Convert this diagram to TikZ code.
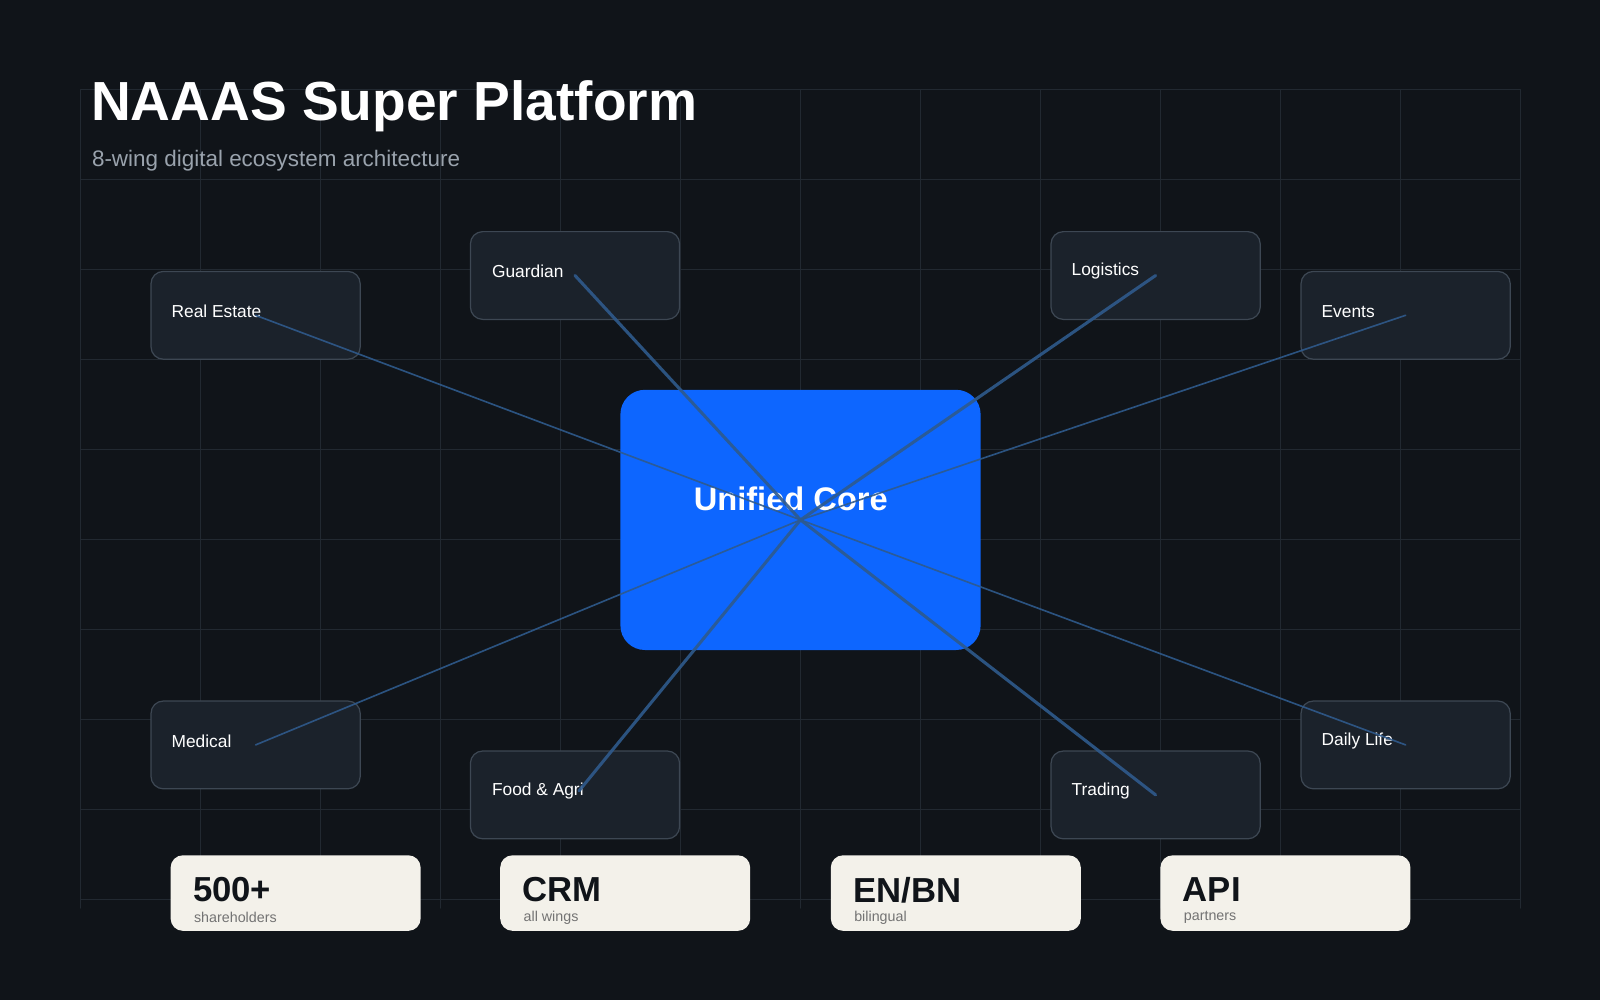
\documentclass[tikz,border=0pt]{standalone}
\usepackage{fontspec}
\setmainfont{Liberation Sans}
\usetikzlibrary{calc}
\definecolor{bgdark}{HTML}{101419}
\definecolor{gridc}{HTML}{222931}
\definecolor{wingfill}{HTML}{1B222B}
\definecolor{wingdraw}{HTML}{3D4753}
\definecolor{coreblue}{HTML}{0D66FF}
\definecolor{linkc}{HTML}{2F5A8C}
\definecolor{cardc}{HTML}{F3F1EA}
\definecolor{subc}{HTML}{9AA3AD}
\tikzset{
  wing/.style={draw=wingdraw,line width=1.2pt,fill=wingfill,rounded corners=12pt,minimum width=205pt,minimum height=86pt},
  winglabel/.style={text=white,font=\fontsize{17}{20}\selectfont,anchor=west,inner sep=0pt},
  card/.style={fill=cardc,rounded corners=12pt,minimum width=245pt,minimum height=74pt},
  link/.style={draw=linkc,line width=1.6pt,draw opacity=0.9},
  linkthick/.style={draw=linkc,line width=3pt,draw opacity=0.9}
}
\begin{document}
\begin{tikzpicture}[line cap=round,line join=round,x=1pt,y=-1pt]
\fill[bgdark] (0,0) rectangle (1568,980);
\useasboundingbox (0,0) rectangle (1568,980);
% grid
\foreach \gx in {0,...,12} \draw[gridc,line width=1pt] (79+117.6*\gx,88) -- (79+117.6*\gx,890);
\foreach \gy in {0,...,9} \draw[gridc,line width=1pt] (79,88+88.2*\gy) -- (1490,88+88.2*\gy);
% title
\node[anchor=west,text=white,font=\bfseries\fontsize{54}{60}\selectfont,inner sep=0pt] (title) at (89,104) {NAAAS Super Platform};
\node[anchor=west,text=subc,font=\fontsize{22}{26}\selectfont,inner sep=0pt] (subtitle) at (90,157) {8-wing digital ecosystem architecture};
% core
\node[fill=coreblue,rounded corners=24pt,minimum width=353pt,minimum height=255pt] (core) at (784.5,509.5) {};
\node[text=white,font=\bfseries\fontsize{32}{36}\selectfont] (corelabel) at (775,489) {Unified Core};
% wings
\node[wing] (realestate) at (250.5,309) {};
\node[wing] (guardian) at (563.5,270) {};
\node[wing] (logistics) at (1132.5,270) {};
\node[wing] (events) at (1377.5,309) {};
\node[wing] (medical) at (250.5,730) {};
\node[wing] (foodagri) at (563.5,779) {};
\node[wing] (trading) at (1132.5,779) {};
\node[wing] (dailylife) at (1377.5,730) {};
\node[winglabel] at (168,305) {Real Estate};
\node[winglabel] at (482,266) {Guardian};
\node[winglabel] at (1050,266) {Logistics};
\node[winglabel] at (1295,305) {Events};
\node[winglabel] at (168,726) {Medical};
\node[winglabel] at (482,775) {Food \& Agri};
\node[winglabel] at (1050,775) {Trading};
\node[winglabel] at (1295,726) {Daily Life};
% links
\draw[link] (core.center) -- (realestate.center);
\draw[linkthick] (core.center) -- (guardian.center);
\draw[linkthick] (core.center) -- (logistics.center);
\draw[link] (core.center) -- (events.center);
\draw[link] (core.center) -- (medical.center);
\draw[linkthick] (core.center) -- ($(foodagri.center)+(4,-4)$);
\draw[linkthick] (core.center) -- (trading.center);
\draw[link] (core.center) -- (dailylife.center);
% stats
\foreach \cx/\big/\small [count=\i] in {167/500+/shareholders,490/CRM/all wings,814/{EN/BN}/bilingual,1137/API/partners}{
  \node[card,anchor=north west] (card\i) at (\cx,838) {};
  \node[anchor=west,text=bgdark,font=\bfseries\fontsize{34}{38}\selectfont,inner sep=0pt] at (\cx+22,872) {\big};
  \node[anchor=west,text=gray!90!black,font=\fontsize{14}{16}\selectfont,inner sep=0pt] at (\cx+23,899) {\small};
}
\end{tikzpicture}
\end{document}
